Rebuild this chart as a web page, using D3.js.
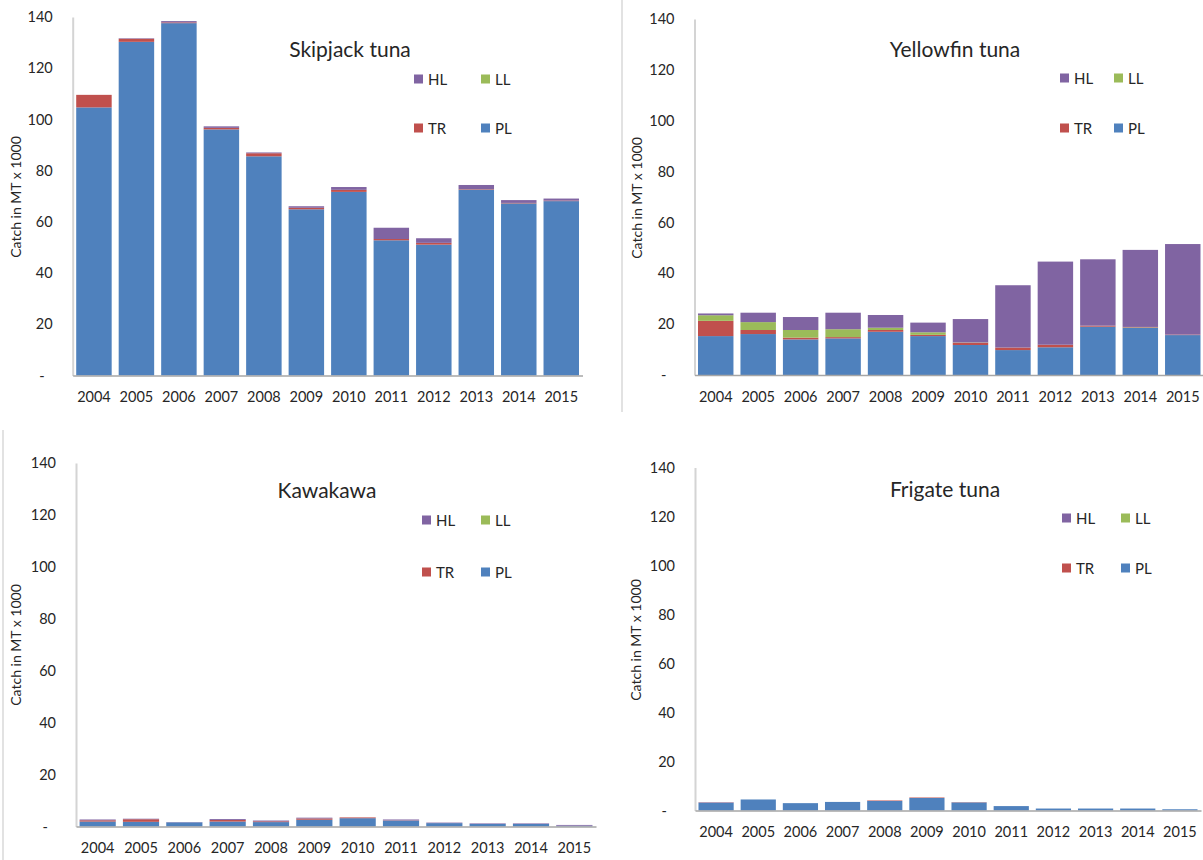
<!DOCTYPE html>
<html>
<head>
<meta charset="utf-8">
<script src="https://cdn.jsdelivr.net/npm/d3@7"></script>
<style>
  html, body { margin: 0; padding: 0; background: #fff; }
  svg { display: block; }
  text { font-family: Lato, "Open Sans", sans-serif; fill: #262626; }
</style>
</head>
<body>
<svg id="chart" width="1203" height="860"></svg>
<script>
// ---------- DATA ----------
const years = ["2004","2005","2006","2007","2008","2009","2010","2011","2012","2013","2014","2015"];
const gears = ["PL","TR","LL","HL"];        // stacking order, bottom to top
const yTicks = [0,20,40,60,80,100,120,140];

// Skipjack tuna (MT x 1000)
const skjPL = [104.7,130.3,137.6,96.1,85.6,64.9,71.7,52.8,51.1,72.6,67.2,68.1];
const skjTR = [4.9,1.2,0.3,0.6,1.2,0.6,0.8,0.5,0.7,0.2,0.2,0.2];
const skjLL = [0,0,0,0,0,0,0,0,0,0,0,0];
const skjHL = [0,0.2,0.5,0.6,0.3,0.6,1.1,4.4,1.8,1.6,1.1,0.8];

// Yellowfin tuna
const yftPL = [15.3,16.1,14.0,14.4,17.0,15.3,11.8,9.8,10.9,19.0,18.6,15.7];
const yftTR = [6.0,1.6,0.7,0.5,0.7,0.5,0.9,1.0,1.0,0.4,0.2,0.2];
const yftLL = [2.2,3.1,3.0,3.1,0.9,1.0,0.1,0,0,0,0.1,0];
const yftHL = [0.7,3.7,5.1,6.5,5.0,3.8,9.2,24.5,32.7,26.1,30.3,35.6];

// Kawakawa
const kawPL = [1.9,1.8,1.6,1.9,1.7,2.6,3.2,2.3,1.3,1.0,1.0,0.3];
const kawTR = [0.5,1.0,0,0.6,0.3,0.5,0.3,0.1,0,0,0,0];
const kawLL = [0,0,0,0,0,0,0,0,0,0,0,0];
const kawHL = [0.3,0.2,0.1,0.35,0.3,0.3,0,0.3,0.2,0.2,0.2,0.3];

// Frigate tuna
const frtPL = [3.2,4.5,3.0,3.5,3.9,5.1,3.3,1.8,0.8,0.8,0.8,0.5];
const frtTR = [0.1,0,0,0,0.2,0.2,0.1,0,0,0,0,0];
const frtLL = [0,0,0,0,0,0,0,0,0,0,0,0];
const frtHL = [0.1,0,0,0,0,0,0,0,0,0,0,0];

const titles = ["Skipjack tuna","Yellowfin tuna","Kawakawa","Frigate tuna"];
const yLabel = "Catch in MT x 1000";
const colors = {PL:"#4F81BD", TR:"#C0504D", LL:"#9BBB59", HL:"#8064A2"};

const speciesData = [
  {PL:skjPL, TR:skjTR, LL:skjLL, HL:skjHL},
  {PL:yftPL, TR:yftTR, LL:yftLL, HL:yftHL},
  {PL:kawPL, TR:kawTR, LL:kawLL, HL:kawHL},
  {PL:frtPL, TR:frtTR, LL:frtLL, HL:frtHL}
];

// ---------- LAYOUT ----------
const panels = [
  {x0:72.7, x1:582.5, y0:375.5, y1:17,  title:[350,48],  ylab:[15,197], leg:{c1:414,c2:481,r1:79,r2:128}},
  {x0:694.5,x1:1204,  y0:375,   y1:19,  title:[955,48],  ylab:[636,198],leg:{c1:1060,c2:1114,r1:78,r2:128}},
  {x0:76,   x1:596,   y0:826.5, y1:463, title:[327,489], ylab:[15,645], leg:{c1:422,c2:481,r1:520,r2:572}},
  {x0:695,  x1:1201,  y0:810.5, y1:467.5,title:[945,488],ylab:[635,640],leg:{c1:1062,c2:1121,r1:518,r2:568}}
];

const svg = d3.select("#chart");

// panel separators
svg.append("line").attr("x1",622).attr("x2",622).attr("y1",0).attr("y2",412)
  .attr("stroke","#cfcfcf").attr("stroke-width",1.2);
svg.append("line").attr("x1",3).attr("x2",3).attr("y1",430).attr("y2",860)
  .attr("stroke","#cfcfcf").attr("stroke-width",1.2);

panels.forEach((p, i) => {
  const g = svg.append("g");
  const x = d3.scaleBand().domain(years).range([p.x0, p.x1]).paddingInner(0.165).paddingOuter(0.0825);
  const y = d3.scaleLinear().domain([0,140]).range([p.y0, p.y1]);

  const rows = years.map((yr, j) => {
    const r = {year: yr};
    gears.forEach(k => r[k] = speciesData[i][k][j]);
    return r;
  });
  const stacked = d3.stack().keys(gears)(rows);

  g.selectAll("g.layer").data(stacked).join("g")
    .attr("fill", d => colors[d.key])
    .selectAll("rect").data(d => d).join("rect")
    .attr("x", d => x(d.data.year))
    .attr("width", x.bandwidth())
    .attr("y", d => y(d[1]))
    .attr("height", d => Math.max(0, y(d[0]) - y(d[1])));

  // y axis
  const ya = g.append("g").attr("transform", `translate(${p.x0},0)`)
    .call(d3.axisLeft(y).tickValues(yTicks).tickSize(0).tickSizeOuter(0).tickPadding(20)
      .tickFormat(d => d === 0 ? "-" : d));
  ya.select(".domain").attr("stroke","#d4d4d4").attr("stroke-width",2);
  ya.selectAll("text").style("font-family","Lato, sans-serif").style("font-size","14.5px").attr("fill","#262626");
  ya.selectAll(".tick").filter(d => d === 0).select("text").attr("dx","-8");

  // x axis
  const xa = g.append("g").attr("transform", `translate(0,${p.y0})`)
    .call(d3.axisBottom(x).tickSize(0).tickSizeOuter(0).tickPadding(16.5));
  xa.select(".domain").attr("stroke","#a6a6a6").attr("stroke-width",1.5);
  xa.selectAll("text").style("font-family","Lato, sans-serif").style("font-size","14.5px").attr("fill","#262626");

  // y label
  g.append("text").attr("transform", `translate(${p.ylab[0]},${p.ylab[1]}) rotate(-90)`)
    .attr("text-anchor","middle").attr("dominant-baseline","central")
    .style("font-size","14px").text(yLabel);

  // title
  g.append("text").attr("x", p.title[0]).attr("y", p.title[1])
    .attr("text-anchor","middle").attr("dominant-baseline","central")
    .style("font-size","21px").text(titles[i]);

  // legend
  const legItems = [
    {k:"HL", x:p.leg.c1, y:p.leg.r1}, {k:"LL", x:p.leg.c2, y:p.leg.r1},
    {k:"TR", x:p.leg.c1, y:p.leg.r2}, {k:"PL", x:p.leg.c2, y:p.leg.r2}
  ];
  const lg = g.selectAll("g.leg").data(legItems).join("g")
    .attr("transform", d => `translate(${d.x},${d.y})`);
  lg.append("rect").attr("x",0).attr("y",-4.5).attr("width",9).attr("height",9)
    .attr("fill", d => colors[d.k]);
  lg.append("text").attr("x",14).attr("y",0).attr("dominant-baseline","central")
    .style("font-size","15px").text(d => d.k);
});
</script>
</body>
</html>
